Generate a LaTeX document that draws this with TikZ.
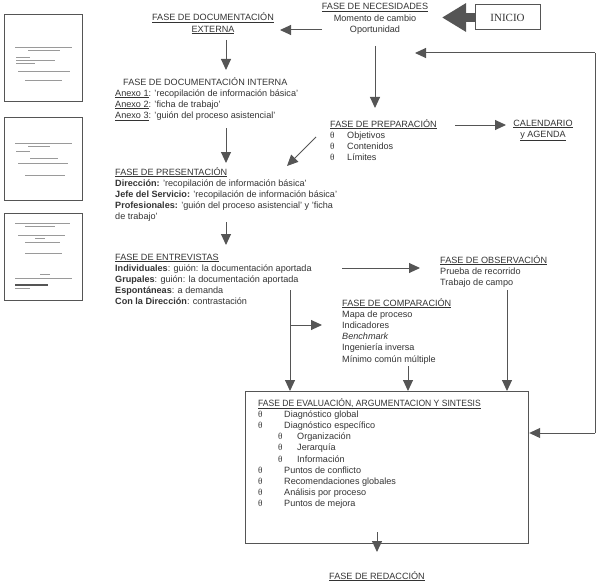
\documentclass[tikz,border=0pt]{standalone}
\usepackage{fontspec}
\usepackage{graphicx}
\setmainfont{Liberation Sans}
\newfontfamily\serifb{Liberation Serif}
\usetikzlibrary{arrows.meta}
\definecolor{tc}{HTML}{333333}
\definecolor{lc}{HTML}{555555}
\definecolor{sc}{HTML}{9A9A9A}
\newcommand{\ulx}[1]{\underline{#1}}
\newcommand{\thb}{{\serifb θ}}
\newcommand{\bi}{\makebox[26pt][l]{\thb}}
\newcommand{\bs}{\hspace*{20pt}\makebox[19pt][l]{\thb}}
\begin{document}
\begin{tikzpicture}[x=1pt,y=-1pt,
  txt/.style={inner sep=0pt, font=\fontsize{9.1}{11.2}\selectfont, text=tc, align=left},
  arr/.style={draw=lc, line width=1pt, -{Triangle[length=11pt,width=10pt]}},
  ln/.style={draw=lc, line width=1pt},
  thumb/.style={draw=lc, line width=1pt},
  scr/.style={draw=sc, line width=0.9pt}]
\useasboundingbox (0,0) rectangle (600,586);

% thumbnails
\draw[thumb] (4,15) rectangle (82,101);
\draw[scr] (15,47) -- (72,47) (28,50) -- (60,50) (16,57) -- (30,57) (16,60) -- (55,60) (16,63) -- (35,63) (18,71) -- (70,71) (25,80) -- (62,80);
\draw[thumb] (4,117) rectangle (82,200);
\draw[scr] (15,143) -- (72,143) (28,146) -- (50,146) (16,151) -- (30,151) (30,158) -- (58,158) (18,163) -- (68,163) (25,175) -- (65,175);
\draw[thumb] (4,213) rectangle (82,300);
\draw[scr] (15,223) -- (70,223) (25,226) -- (55,226) (18,235) -- (65,235) (35,238) -- (45,238) (25,242) -- (60,242) (25,253) -- (62,253) (40,274) -- (50,274) (15,278) -- (72,278) (15,288) -- (30,288);
\draw[draw=lc, line width=1.6pt] (15,285) -- (48,285);

% text blocks (anchor = baseline of the LAST line)
\node[txt,align=center,anchor=base] (nec) at (375,32.4) {\ulx{FASE DE NECESIDADES}\\Momento de cambio\\Oportunidad};
\node[txt,align=center,anchor=base] (ext) at (213,32.2) {\ulx{FASE DE DOCUMENTACIÓN}\\\ulx{EXTERNA}};
\node[draw=lc, line width=1pt, minimum width=65pt, minimum height=25pt, inner sep=0pt,
      font=\serifb\fontsize{11}{13}\selectfont, text=tc] (ini) at (507.5,17.5) {INICIO};
\node[txt,anchor=base west] (inth) at (123,85) {FASE DE DOCUMENTACIÓN INTERNA};
\node[txt,anchor=base west] (int) at (115,118.4) {\ulx{Anexo 1}: 'recopilación de información básica'\\\ulx{Anexo 2}: 'ficha de trabajo'\\\ulx{Anexo 3}: 'guión del proceso asistencial'};
\node[txt,anchor=base west] (prep) at (330,160.6) {\ulx{FASE DE PREPARACIÓN}\\\makebox[17pt][l]{\thb}Objetivos\\\makebox[17pt][l]{\thb}Contenidos\\\makebox[17pt][l]{\thb}Límites};
\node[txt,align=center,anchor=base] (cal) at (543,137.2) {\ulx{CALENDARIO}\\\ulx{y AGENDA}};
\node[txt,anchor=base west] (pres) at (115,219.8) {\ulx{FASE DE PRESENTACIÓN}\\\textbf{Dirección:} 'recopilación de información básica'\\\textbf{Jefe del Servicio:} 'recopilación de información básica'\\\textbf{Profesionales:} 'guión del proceso asistencial' y 'ficha\\de trabajo'};
\node[txt,anchor=base west] (ent) at (115,304.8) {\ulx{FASE DE ENTREVISTAS}\\\textbf{Individuales}: guión: la documentación aportada\\\textbf{Grupales}: guión: la documentación aportada\\\textbf{Espontáneas}: a demanda\\\textbf{Con la Dirección}: contrastación};
\node[txt,anchor=base west] (obs) at (440,285.4) {\ulx{FASE DE OBSERVACIÓN}\\Prueba de recorrido\\Trabajo de campo};
\node[txt,anchor=base west] (comp) at (342,362) {\ulx{FASE DE COMPARACIÓN}\\Mapa de proceso\\Indicadores\\\textit{Benchmark}\\Ingeniería inversa\\Mínimo común múltiple};
\node[draw=lc, line width=1.2pt, minimum width=283pt, minimum height=152pt, anchor=north west, inner sep=0pt] (box) at (245,391) {};
\node[txt,anchor=base west] (eval) at (258,506.8) {\ulx{\scalebox{0.94}[1]{FASE DE EVALUACIÓN, ARGUMENTACION Y SINTESIS}}\\
\bi Diagnóstico global\\
\bi Diagnóstico específico\\
\bs Organización\\
\bs Jerarquía\\
\bs Información\\
\bi Puntos de conflicto\\
\bi Recomendaciones globales\\
\bi Análisis por proceso\\
\bi Puntos de mejora};
\node[txt,align=center,anchor=base] (red) at (377,579) {\ulx{FASE DE REDACCIÓN}};

% connector coordinates
\coordinate (necl) at (322,30);
\coordinate (extr) at (280,30);
\coordinate (inip) at (442,17.5);
\coordinate (fb1) at (595,433);
\coordinate (fb2) at (595,53);
\coordinate (fbtip) at (415,53);
\coordinate (ebr) at (290,290);
\coordinate (cmpl) at (322,325);
\coordinate (diag1) at (316,137);
\coordinate (diag2) at (287,166);
\coordinate (obsb) at (507,290);
\coordinate (cmpb) at (408,366);

% connectors
\draw[arr] (necl) -- (extr);
\draw[draw=lc, line width=9pt, -{Triangle[length=24pt,width=27pt]}] (ini.west) -- (inip);
\draw[arr] (226,40) -- (226,70);
\draw[arr] (226,128) -- (226,163);
\draw[arr] (diag1) -- (diag2);
\draw[arr] (375,46) -- (375,108);
\draw[arr] (455,125) -- (506,125);
\draw[arr] (226,222) -- (226,245);
\draw[arr] (342,268) -- (420,268);
\draw[arr] (ebr) -- (ebr |- box.north);
\draw[arr] (ebr |- cmpl) -- (cmpl);
\draw[arr] (obsb) -- (obsb |- box.north);
\draw[arr] (cmpb) -- (cmpb |- box.north);
\draw[arr] (377,532) -- (377,552);
\draw[ln] (fb1) -- (fb2);
\draw[arr] (fb1) -- (box.east |- fb1);
\draw[arr] (fb2) -- (fbtip);
\end{tikzpicture}
\end{document}
